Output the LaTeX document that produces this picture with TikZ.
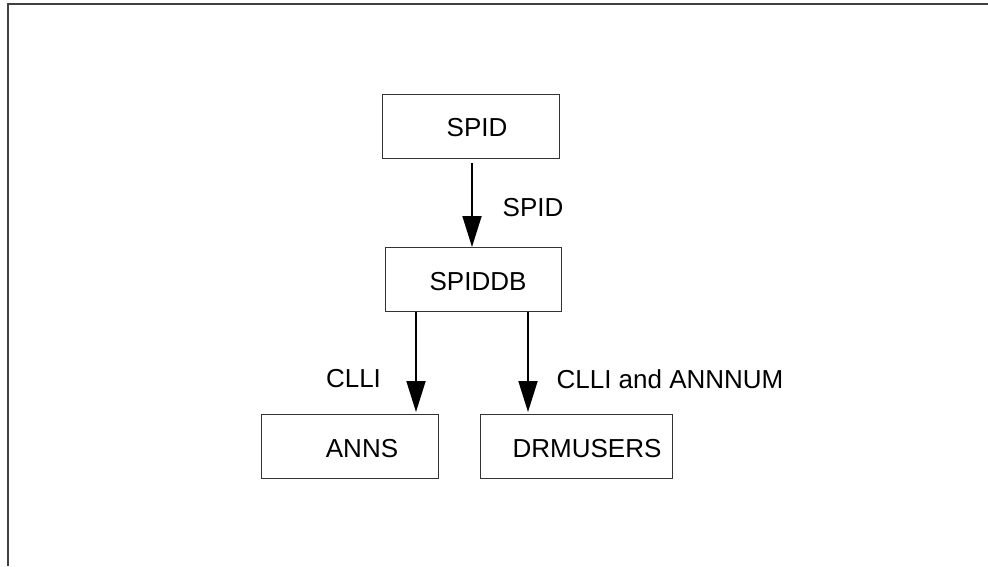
\documentclass[tikz,border=0pt]{standalone}
\usepackage{fontspec}
\setmainfont{Liberation Sans}
\usetikzlibrary{arrows.meta}
\tikzset{
  tbl/.style={draw=black!80, line width=1pt, minimum height=64pt, inner sep=0pt},
  flow/.style={line width=1.8pt, -{Triangle[length=31pt,width=19pt]}},
  lbl/.style={font=\fontsize{26}{30}\selectfont}
}
\begin{document}
\begin{tikzpicture}[x=1pt, y=-1pt]
\useasboundingbox (0,0) rectangle (988,566);
\draw[black!75, line width=1.5pt] (8,566) -- (8,4) -- (988,4);
\node[tbl, minimum width=177pt, label={[lbl, xshift=6pt, yshift=-2pt]center:SPID}] (spid) at (471,126) {};
\node[tbl, minimum width=176pt, label={[lbl, xshift=5pt, yshift=-2pt]center:SPIDDB}] (spiddb) at (473,279.5) {};
\node[tbl, minimum width=177pt, label={[lbl, xshift=12pt, yshift=-3pt]center:ANNS}] (anns) at (350,446) {};
\node[tbl, minimum width=192pt, label={[lbl, xshift=11pt, yshift=-3pt]center:DRMUSERS}] (drmusers) at (576,446) {};
\node[lbl] (lspid) at (533,208) {SPID};
\node[lbl] (lclli) at (353.5,379) {CLLI};
\node[lbl] (lboth) at (670,379) {CLLI and ANNNUM};
\draw[flow] ([xshift=1pt,yshift=-4.5pt]spid.south) -- ([xshift=1pt]spid.south |- spiddb.north);
\draw[flow] ([xshift=-57pt]spiddb.south) -- ([xshift=-57pt,yshift=1.5pt]spiddb.south |- anns.north);
\draw[flow] ([xshift=55pt]spiddb.south) -- ([xshift=55pt,yshift=1.5pt]spiddb.south |- drmusers.north);
\end{tikzpicture}
\end{document}
